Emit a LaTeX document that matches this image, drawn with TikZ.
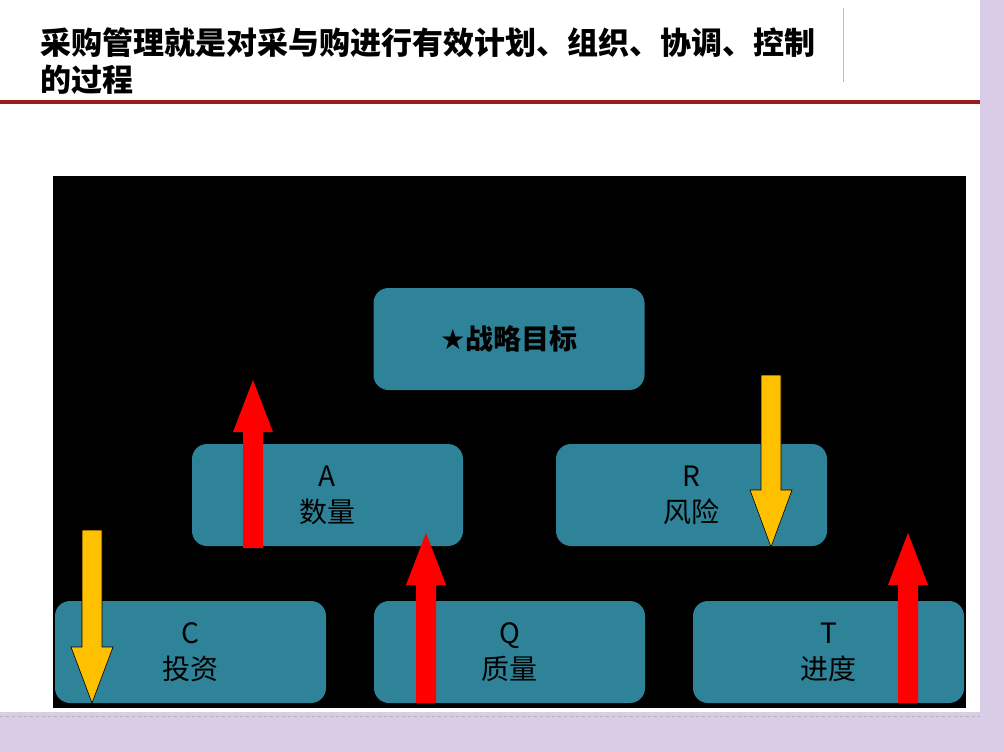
\documentclass[tikz,border=0pt]{standalone}
\usepackage{fontspec}
\newfontfamily\cjk{Noto Sans CJK SC}
\newfontfamily\sym{DejaVu Sans}
\definecolor{lav}{HTML}{D9CCE6}
\definecolor{teal}{HTML}{2F8399}
\definecolor{dred}{HTML}{9B1C1C}
\definecolor{yel}{HTML}{FFC000}
\tikzset{box/.style={fill=teal,rounded corners=15pt,minimum width=271pt,minimum height=102pt,inner sep=0pt,align=center,font=\cjk\fontsize{28}{36}\selectfont,text=black},
yelarr/.style={fill=yel,draw=black,line width=0.6pt}}
\newcommand\uparr[3]{\fill[red] (#1-10,#2)--(#1+10,#2)--(#1+10,#3+52)--(#1+20,#3+52)--(#1,#3)--(#1-20,#3+52)--(#1-10,#3+52)--cycle;}
\newcommand\downarr[4]{\draw[yelarr] (#1-10,#2)--(#1+10,#2)--(#1+10,#3)--(#1+21,#3)--(#1,#4)--(#1-21,#3)--(#1-10,#3)--cycle;}
\begin{document}
\begin{tikzpicture}[x=1pt,y=-1pt]
\useasboundingbox (0,0) rectangle (1004,752);
\fill[white] (0,0) rectangle (1004,752);
\fill[lav] (980,0) rectangle (1004,752);
\fill[lav] (0,712) rectangle (1004,752);
\draw[gray!60,dashed,line width=0.4pt] (0,716)--(980,716);
\draw[gray!50,line width=0.8pt] (843,8)--(843,82);
\fill[dred] (0,100) rectangle (980,104);
\node[anchor=base west,inner sep=0pt,font=\cjk\bfseries\fontsize{31}{36}\selectfont] (t1) at (40,55) {采购管理就是对采与购进行有效计划、组织、协调、控制};
\node[anchor=base west,inner sep=0pt,font=\cjk\bfseries\fontsize{31}{36}\selectfont] (t2) at (40,92) {的过程};
\fill[black] (53,176) rectangle (966,708);
\node[box] (goal) at (509,339) {{\sym ★}\textbf{战略目标}};
\node[box] (a) at (327.5,495) {A\\数量};
\node[box] (r) at (691.5,495) {R\\风险};
\node[box] (c) at (190.5,652) {C\\投资};
\node[box] (q) at (509.5,652) {Q\\质量};
\node[box] (t) at (828.5,652) {T\\进度};
\uparr{253}{548}{380}
\uparr{426}{703}{533}
\uparr{908}{703}{533}
\downarr{92}{530}{647}{703}
\downarr{771}{375}{490}{547}
\end{tikzpicture}
\end{document}
